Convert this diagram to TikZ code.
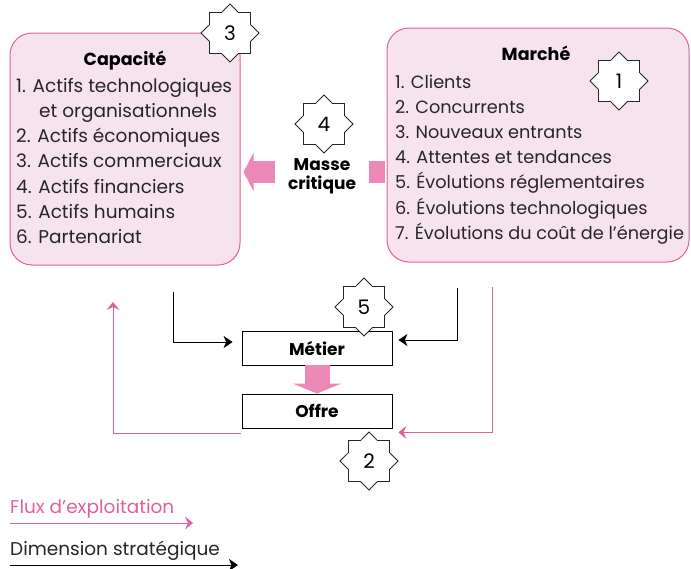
\documentclass[tikz,border=0pt]{standalone}
\usepackage{fontspec}
\setmainfont{Poppins}
\usetikzlibrary{arrows.meta,positioning,shapes.geometric}

\definecolor{rose}{HTML}{E0609C}
\definecolor{rosepale}{HTML}{F7E3EE}
\definecolor{rosevif}{HTML}{EC88B8}

\tikzset{
	bloc/.style={draw=rose, fill=rosepale, rounded corners=22pt, line width=1pt},
	etoile/.style={star, star points=8, star point ratio=1.31, draw=black!85, fill=white,
		line width=0.8pt, minimum size=58pt, inner sep=0pt, font=\fontsize{20}{20}\selectfont},
	ligne/.style={anchor=base west, inner sep=0pt, font=\fontsize{18.5}{20}\selectfont, text=black!85},
	titre/.style={anchor=base, inner sep=0pt, font=\fontsize{17.5}{20}\selectfont\bfseries},
	cadre/.style={draw, line width=0.8pt, minimum width=150pt, minimum height=34pt,
		font=\fontsize{17}{20}\selectfont\bfseries},
	strat/.style={-{Stealth[length=9pt,width=12pt,inset=2.5pt]}, line width=0.9pt},
	flux/.style={-{Stealth[length=8pt,width=13pt,inset=3pt]}, draw=rose, line width=0.8pt},
	grosse/.style={draw=rosevif, line width=22pt, -{Triangle[length=10pt,width=38pt]}},
}

\begin{document}
\begin{tikzpicture}[x=1pt, y=-1pt]
	\useasboundingbox (0,0) rectangle (691,568);

	% les deux blocs du haut
	\node[bloc, minimum width=230pt, minimum height=232pt] (capacite) at (125,149) {};
	\node[bloc, minimum width=302pt, minimum height=234pt] (marche) at (538,145) {};

	\node[titre] (titrecap) at (125,65) {Capacité};
	\foreach \dx/\txt [count=\i] in {0/1. Actifs technologiques, 23/et organisationnels,
		0/2. Actifs économiques, 0/3. Actifs commerciaux, 0/4. Actifs financiers,
		0/5. Actifs humains, 0/6. Partenariat}
		\node[ligne] (cap-\i) at (16+\dx, 67+25.2*\i) {\txt};

	\node[titre] (titremar) at (536,60) {Marché};
	\foreach \txt [count=\i] in {1. Clients, 2. Concurrents, 3. Nouveaux entrants,
		4. Attentes et tendances, 5. Évolutions réglementaires,
		6. Évolutions technologiques, 7. Évolutions du coût de l’énergie}
		\node[ligne, font=\fontsize{17.7}{20}\selectfont] (mar-\i) at (395, 62.8+25.2*\i) {\txt};

	% masse critique
	\draw[grosse, shorten <=2pt, shorten >=3pt] (marche.west |- 0,172) -- (capacite.east |- 0,172);
	\node[fill=white, align=center, inner sep=0pt, minimum width=94pt,
		font=\fontsize{17}{19}\selectfont\bfseries] (masse) at (322,176) {Masse\\critique};

	% metier et offre
	\node[cadre] (metier) at (317,348) {Métier};
	\node[cadre] (offre) at (317,411) {Offre};
	\draw[grosse, line width=25pt, -{Triangle[length=10pt,width=48pt]}] (metier.south) -- (offre.north);

	\coordinate (capbas) at (173,292);
	\coordinate (marbas) at (457,288);
	\draw[strat, shorten >=9pt] (capbas) |- ([yshift=6pt]metier.west);
	\draw[strat, shorten >=6pt] (marbas) |- ([yshift=8pt]metier.east);

	\coordinate (capretour) at (113,302);
	\coordinate (marretour) at (492,287);
	\draw[flux] ([xshift=-1pt, yshift=-5pt]offre.south west) -| (capretour);
	\draw[flux] (marretour) |- ([xshift=6pt, yshift=-4pt]offre.south east);

	% les etoiles
	\node[etoile] (e3) at (230,33) {3};
	\node[etoile] (e1) at (619,81) {1};
	\node[etoile] (e4) at (324,124) {4};
	\node[etoile] (e5) at (364,307) {5};
	\node[etoile] (e2) at (369,461) {2};

	% legende
	\node[ligne, text=rose] (lgflux) at (10,513) {Flux d’exploitation};
	\node[ligne] (lgstrat) at (10,555) {Dimension stratégique};
	\coordinate (f1) at (10,523);
	\coordinate (f2) at (193,523);
	\coordinate (s1) at (10,565);
	\coordinate (s2) at (238,565);
	\draw[flux] (f1) -- (f2);
	\draw[strat] (s1) -- (s2);
\end{tikzpicture}
\end{document}
